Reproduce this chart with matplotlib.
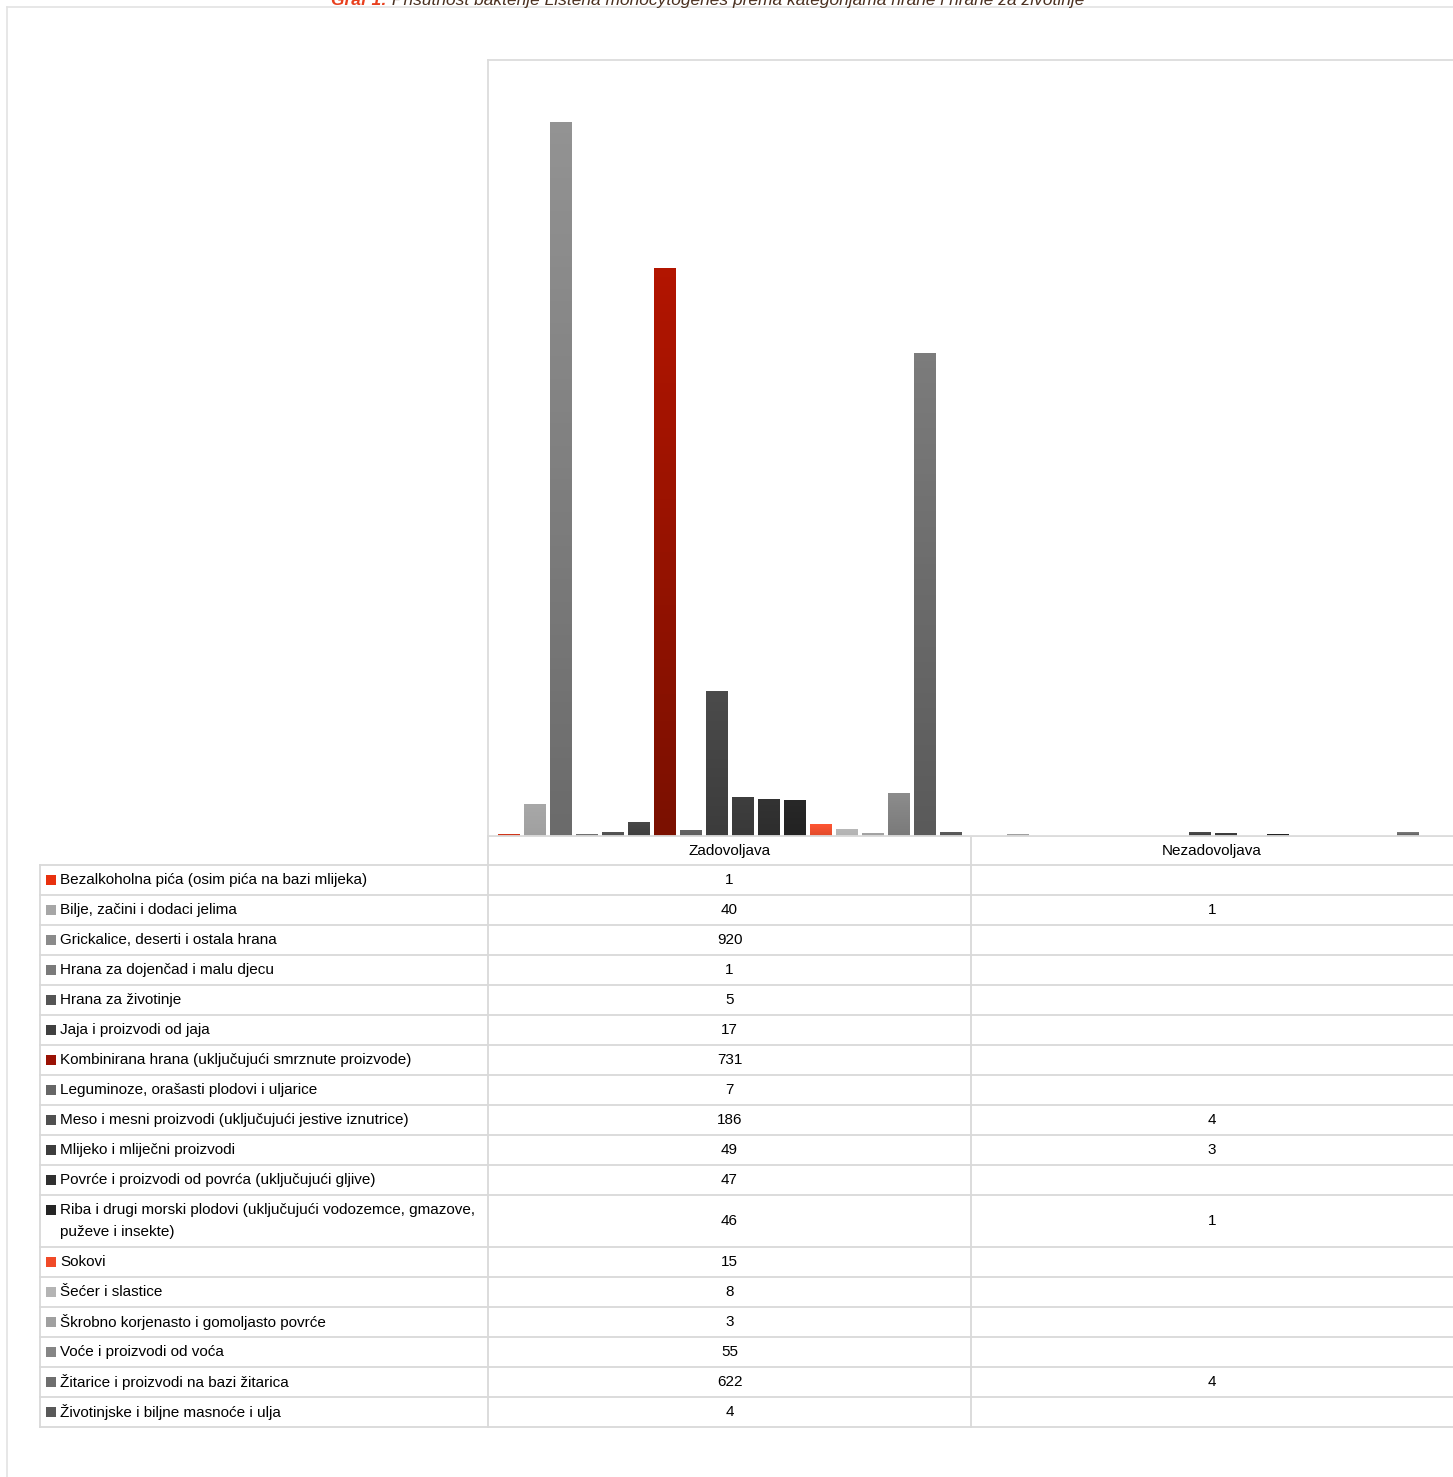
import matplotlib.pyplot as plt
import numpy as np
from matplotlib.colors import LinearSegmentedColormap

plt.rcParams['font.family'] = ['Liberation Sans', 'DejaVu Sans']

# Data
groups = ['Zadovoljava', 'Nezadovoljava']
categories = [
    'Bezalkoholna pića (osim pića na bazi mlijeka)',
    'Bilje, začini i dodaci jelima',
    'Grickalice, deserti i ostala hrana',
    'Hrana za dojenčad i malu djecu',
    'Hrana za životinje',
    'Jaja i proizvodi od jaja',
    'Kombinirana hrana (uključujući smrznute proizvode)',
    'Leguminoze, orašasti plodovi i uljarice',
    'Meso i mesni proizvodi (uključujući jestive iznutrice)',
    'Mlijeko i mliječni proizvodi',
    'Povrće i proizvodi od povrća (uključujući gljive)',
    'Riba i drugi morski plodovi (uključujući vodozemce, gmazove,\npuževe i insekte)',
    'Sokovi',
    'Šećer i slastice',
    'Škrobno korjenasto i gomoljasto povrće',
    'Voće i proizvodi od voća',
    'Žitarice i proizvodi na bazi žitarica',
    'Životinjske i biljne masnoće i ulja',
]
zadovoljava = [1, 40, 920, 1, 5, 17, 731, 7, 186, 49, 47, 46, 15, 8, 3, 55, 622, 4]
nezadovoljava = [None, 1, None, None, None, None, None, None, 4, 3, None, 1, None, None, None, None, 4, None]

# bar colours (bottom, top) for the gradient
bottom_cols = ['#d0361a', '#a0a0a0', '#6b6b6b', '#707070', '#4f4f4f', '#3e3e3e', '#7b1000',
               '#5f5f5f', '#3c3c3c', '#393939', '#2d2d2d', '#222222', '#e04a2a', '#b2b2b2',
               '#a0a0a0', '#7a7a7a', '#5a5a5a', '#555555']
top_cols = ['#e8401e', '#a8a8a8', '#939393', '#787878', '#555555', '#484848', '#b21500',
            '#636363', '#4b4b4b', '#3e3e3e', '#333333', '#282828', '#ff5533', '#b8b8b8',
            '#a4a4a4', '#8c8c8c', '#7c7c7c', '#5a5a5a']
legend_cols = ['#e8310f', '#a6a6a6', '#8a8a8a', '#7a7a7a', '#555555', '#404040', '#9a1205',
               '#666666', '#505050', '#3d3d3d', '#303030', '#252525', '#f04a28', '#b4b4b4',
               '#a0a0a0', '#858585', '#6e6e6e', '#595959']

W, H = 1453, 1477
fig = plt.figure(figsize=(W / 100, H / 100), dpi=100)
grid_col = '#d9d9d9'
fs = 11

# overlay axes in pixel coordinates for frame, title and table
ov = fig.add_axes([0, 0, 1, 1])
ov.set_xlim(0, W)
ov.set_ylim(H, 0)
ov.axis('off')

# outer frame
ov.plot([7, W], [7, 7], color='#e3e3e3', lw=1.2)
ov.plot([7, 7], [7, H], color='#e3e3e3', lw=1.2)

# title (cut off at the top like the original)
t1 = ov.text(331, 5, 'Graf 1:', color='#e8401e', fontsize=12.5, fontstyle='italic',
             fontweight='bold', va='baseline', ha='left')
ov.annotate(' Prisutnost bakterije Listeria monocytogenes prema kategorijama hrane i hrane za životinje',
            xy=(1, 0), xycoords=t1, va='bottom', ha='left', color='#4a3020',
            fontsize=12.5, fontstyle='italic')

# bar chart
plot_left, plot_right, plot_top, plot_base = 488, 1454, 60, 836
ax = fig.add_axes([plot_left / W, 1 - plot_base / H, (plot_right - plot_left) / W,
                   (plot_base - plot_top) / H])
n = len(categories)
step = 26 / 483
bw = 22 / 483
xc = np.arange(len(groups))
for i in range(n):
    vals = [zadovoljava[i], nezadovoljava[i]]
    xs = xc + (i - (n - 1) / 2) * step
    for x, v in zip(xs, vals):
        if v is None:
            continue
        ax.bar(x, max(v, 2), width=bw, color=bottom_cols[i], lw=0, zorder=1)
        cmap = LinearSegmentedColormap.from_list('g', [bottom_cols[i], top_cols[i]])
        grad = np.linspace(0, 1, 64).reshape(-1, 1)
        ax.imshow(grad, extent=[x - bw / 2, x + bw / 2, 0, v], origin='lower',
                  aspect='auto', cmap=cmap, zorder=2)
ax.set_xlim(-0.5, 1.5)
ax.set_ylim(0, 1000)
ax.set_xticks([])
ax.set_yticks([])
ax.spines['right'].set_visible(False)
for s in ['left', 'top', 'bottom']:
    ax.spines[s].set_color('#dcdcdc')
    ax.spines[s].set_linewidth(1.3)

# data table
col_x = [40, 488, 971, W]
row_h = [52 if '\n' in c else 30 for c in categories]
row_edges = [865]
for h in row_h:
    row_edges.append(row_edges[-1] + h)

# header row
ov.plot([488, W], [836, 836], color=grid_col, lw=1.3)
for j, g in enumerate(groups):
    ov.text((col_x[j + 1] + col_x[j + 2]) / 2, 851, g, ha='center', va='center', fontsize=fs)

for y in row_edges:
    ov.plot([40, W], [y, y], color=grid_col, lw=1.3)
ov.plot([40, 40], [865, row_edges[-1]], color=grid_col, lw=1.3)
ov.plot([488, 488], [836, row_edges[-1]], color=grid_col, lw=1.3)
ov.plot([971, 971], [836, row_edges[-1]], color=grid_col, lw=1.3)

for i, c in enumerate(categories):
    yc = (row_edges[i] + row_edges[i + 1]) / 2
    ytxt = yc - 11 if '\n' in c else yc
    ov.add_patch(plt.Rectangle((46, ytxt - 5), 10, 10, color=legend_cols[i], lw=0))
    ov.text(60, yc, c, ha='left', va='center', fontsize=fs, linespacing=1.7)
    for j, v in enumerate([zadovoljava[i], nezadovoljava[i]]):
        if v is not None:
            ov.text((col_x[j + 1] + col_x[j + 2]) / 2, yc, str(v), ha='center',
                    va='center', fontsize=fs)

fig.savefig('out.png', dpi=100)
